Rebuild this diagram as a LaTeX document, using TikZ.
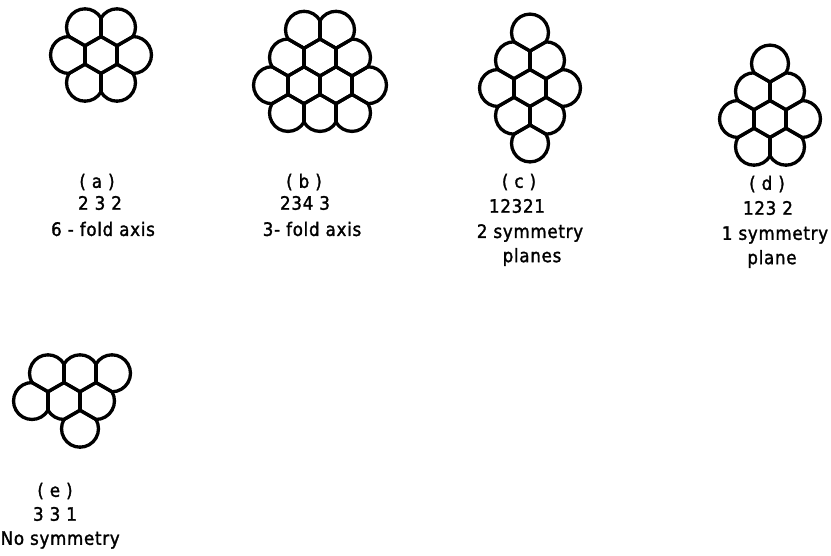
\documentclass[tikz,border=0pt]{standalone}
\usepackage{fontspec}
\newfontfamily\lab[LetterSpace=4,FakeBold=1.6,FakeStretch=0.9]{DejaVu Sans}
\def\hcd{32}
\def\hcR{18.475}
\makeatletter
\newcommand\hexcluster[4]{%
  \def\hc@list{,#4,}%
  \foreach \hcq/\hcr in {#4}{%
    \pgfmathsetmacro\hc@cx{#2+(\hcq+0.5*\hcr)*\hcd}%
    \pgfmathsetmacro\hc@cy{#3+\hcr*\hcd*0.8660254}%
    \foreach \hct/\hcdq/\hcdr in {0/1/0,60/0/1,120/-1/1,180/-1/0,240/0/-1,300/1/-1}{%
      \pgfmathtruncatemacro\hc@nq{\hcq+\hcdq}%
      \pgfmathtruncatemacro\hc@nr{\hcr+\hcdr}%
      \edef\hc@do{\noexpand\in@{,\hc@nq/\hc@nr,}{\hc@list}}\hc@do
      \ifin@
        \draw[cellline] (\hc@cx,\hc@cy) +(\hct-30:\hcR) -- +(\hct+30:\hcR);
      \else
        \draw[cellline] (\hc@cx,\hc@cy) +(\hct-30:\hcR) arc[start angle=\hct-30, end angle=\hct+30, radius=\hcR];
      \fi
    }%
  }%
}
\makeatother
\begin{document}
\begin{tikzpicture}[x=1pt,y=-1pt,
  cellline/.style={line width=3.3pt,line cap=round,line join=round},
  lbl/.style={font=\lab\fontsize{18.5}{20}\selectfont,inner sep=0pt,anchor=center}]
\fill[white] (0,0) rectangle (831,555);
\useasboundingbox (0,0) rectangle (831,555);
% (a)
\hexcluster{a}{101}{55}{0/-1,1/-1,-1/0,0/0,1/0,-1/1,0/1}
% (b)
\hexcluster{b}{320}{57.5}{0/-1,1/-1,-1/0,0/0,1/0,-2/1,-1/1,0/1,1/1,-2/2,-1/2,0/2}
% (c)
\hexcluster{c}{530}{88}{1/-2,0/-1,1/-1,-1/0,0/0,1/0,-1/1,0/1,-1/2}
% (d)
\hexcluster{d}{770}{119}{1/-2,0/-1,1/-1,-1/0,0/0,1/0,-1/1,0/1}
% (e)
\hexcluster{e}{64}{401}{0/-1,1/-1,2/-1,-1/0,0/0,1/0,0/1}
% labels
\node[lbl] (la1) at (97,182) {( a )};
\node[lbl] (la2) at (100,203) {2 3 2};
\node[lbl] (la3) at (103,229) {6 - fold axis};
\node[lbl] (lb1) at (304,182) {( b )};
\node[lbl] (lb2) at (305,203) {234 3};
\node[lbl] (lb3) at (312,229) {3- fold axis};
\node[lbl] (lc1) at (519,182) {( c )};
\node[lbl] (lc2) at (517,206) {12321};
\node[lbl] (lc3) at (530,233) {2 symmetry};
\node[lbl] (lc4) at (532,257) {planes};
\node[lbl] (ld1) at (767,184) {( d )};
\node[lbl] (ld2) at (768,208) {123 2};
\node[lbl] (ld3) at (775,235) {1 symmetry};
\node[lbl] (ld4) at (772,259) {plane};
\node[lbl] (le1) at (55,491) {( e )};
\node[lbl] (le2) at (55,514) {3 3 1};
\node[lbl,anchor=west] (le3) at (0.5,540) {No symmetry};
\end{tikzpicture}
\end{document}
